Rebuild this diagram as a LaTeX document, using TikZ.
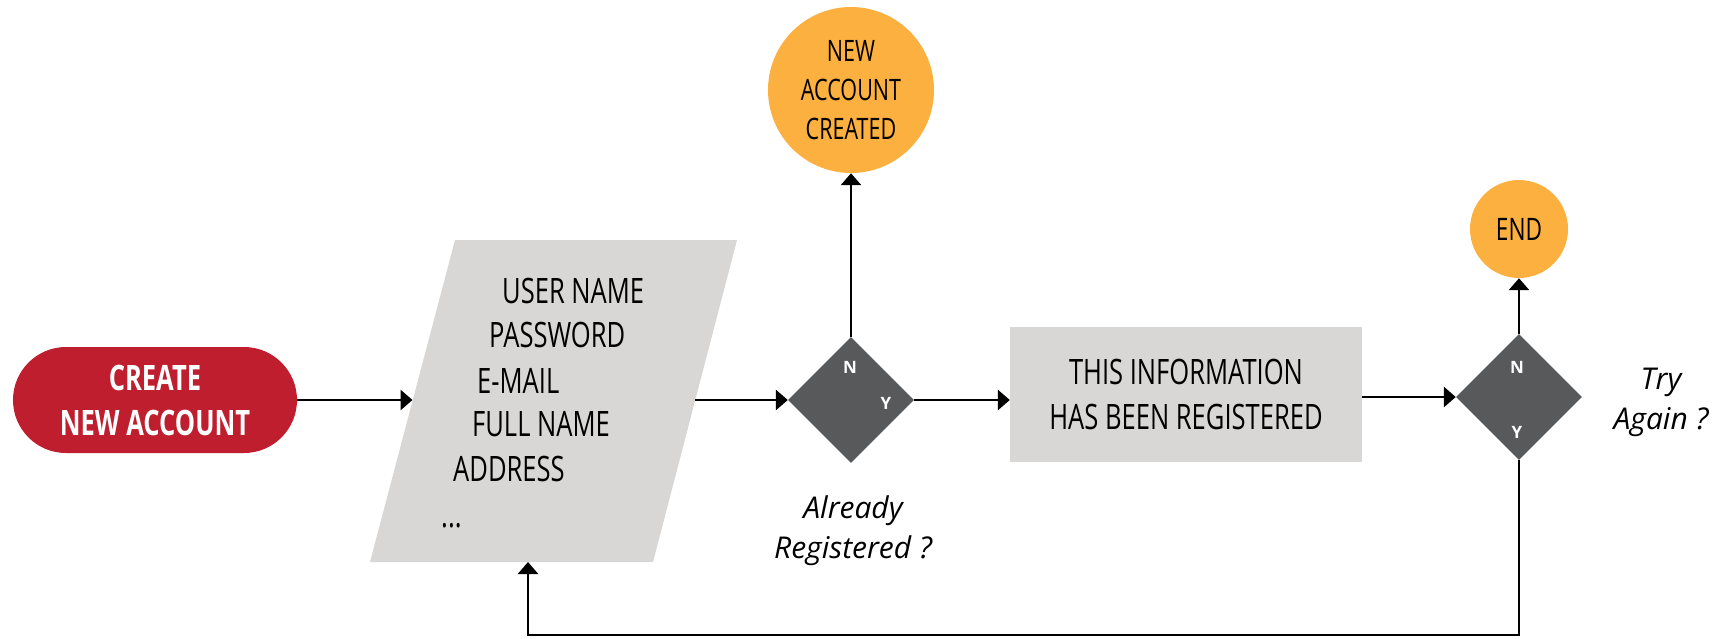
\documentclass[tikz,border=0pt]{standalone}
\usepackage{fontspec}
\setmainfont{Open Sans}
\newfontfamily\cond[FakeStretch=0.73]{Open Sans}
\usetikzlibrary{arrows.meta,shapes.geometric}
\definecolor{cred}{HTML}{BE1E2D}
\definecolor{corange}{HTML}{FBB040}
\definecolor{cgray}{HTML}{D8D7D5}
\definecolor{cdark}{HTML}{58595B}
\tikzset{
  arr/.style={draw=black, line width=2.8pt, -{Triangle[length=12pt,width=20pt]}},
  startbox/.style={fill=cred, text=white, rounded corners=53pt, minimum width=284pt, minimum height=106pt, inner sep=0pt, align=center, font=\cond\bfseries\fontsize{35}{45}\selectfont},
  formtxt/.style={anchor=base west, inner sep=0pt, font=\cond\fontsize{35}{42}\selectfont},
  procbox/.style={fill=cgray, minimum width=352pt, minimum height=135pt, inner sep=0pt, align=center, font=\cond\fontsize{35}{45}\selectfont},
  decbox/.style={diamond, fill=cdark, minimum width=126pt, minimum height=126pt, inner sep=0pt, aspect=1},
  termcirc/.style={circle, fill=corange, inner sep=0pt, align=center},
  yn/.style={text=white, inner sep=0pt, font=\bfseries\fontsize{17}{20}\selectfont},
  qlabel/.style={inner sep=0pt, align=center, font=\itshape\fontsize{30}{40}\selectfont},
}
\begin{document}
\begin{tikzpicture}[x=1pt,y=-1pt]
\useasboundingbox (0,0) rectangle (1721,638);
% start
\node[startbox] (create) at (155,400) {CREATE\\NEW ACCOUNT};
% form parallelogram
\fill[cgray] (455,240) -- (737,240) -- (653,562) -- (370,562) -- cycle;
\coordinate (formL) at (412.5,400);
\coordinate (formR) at (695,400);
\coordinate (formB) at (528,562);
\node[formtxt] (f1) at (502,303) {USER NAME};
\node[formtxt] (f2) at (489,347) {PASSWORD};
\node[formtxt] (f3) at (477,393) {E-MAIL};
\node[formtxt] (f4) at (472,436) {FULL NAME};
\node[formtxt] (f5) at (453,481) {ADDRESS};
\node[formtxt] (f6) at (441,527) {...};
% decision 1
\node[decbox] (d1) at (851,400) {};
\node[yn] (d1n) at (850,367) {N};
\node[yn] (d1y) at (886,403) {Y};
\node[qlabel] (q1) at (853,531) {Already\\Registered ?};
% new account created
\node[termcirc, minimum size=166pt, font=\cond\fontsize{29.5}{39}\selectfont] (created) at (851,90) {NEW\\ACCOUNT\\CREATED};
% process
\node[procbox] (reg) at (1186,394.5) {THIS INFORMATION\\HAS BEEN REGISTERED};
% decision 2
\node[decbox] (d2) at (1519,397) {};
\node[yn] (d2n) at (1517,367) {N};
\node[yn] (d2y) at (1517,432) {Y};
\node[qlabel] (q2) at (1661,402) {Try\\Again ?};
% end
\node[termcirc, minimum size=98pt, font=\cond\fontsize{31}{38}\selectfont] (end) at (1519,229) {END};
% connectors
\draw[arr] (create.east) -- (formL);
\draw[arr] (formR) -- (d1.west);
\draw[arr] (d1.north) -- (created.south);
\draw[arr] (d1.east) -- (d1.east -| reg.west);
\draw[arr] (reg.east |- d2.west) -- (d2.west);
\draw[arr] (d2.north) -- (end.south);
\coordinate (loopR) at (1519,635);
\coordinate (loopL) at (528,635);
\draw[arr] (d2.south) -- (loopR) -- (loopL) -- (formB);
\end{tikzpicture}
\end{document}
